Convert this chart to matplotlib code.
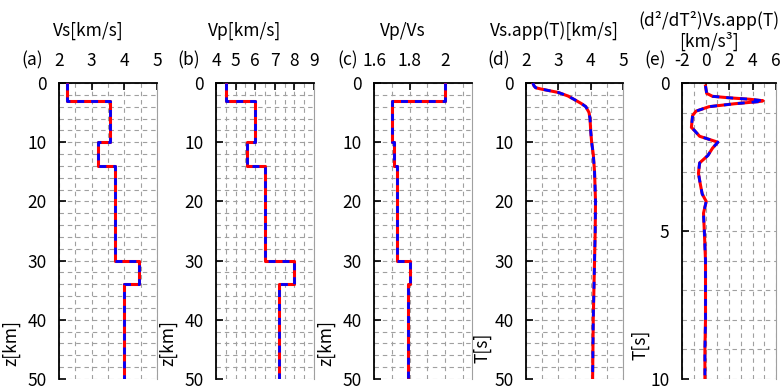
import numpy as np
import matplotlib
matplotlib.use("Agg")
import matplotlib.pyplot as plt
from matplotlib.ticker import MultipleLocator, FormatStrFormatter

plt.rcParams['font.family'] = ['Noto Sans CJK JP', 'DejaVu Sans']
plt.rcParams['font.size'] = 12.5

# Слои модели (границы в км)
layer_bounds = [0, 3, 10, 14, 30, 34, 50]
vs = [2.25, 3.55, 3.2, 3.7, 4.45, 4.0]
vp = [4.5, 6.0, 5.6, 6.5, 8.0, 7.2]
vpvs = [2.0, 1.70, 1.71, 1.73, 1.80, 1.79]

# Кажущаяся скорость Vs.app(T)
period = [0, 0.5, 0.8, 1.0, 1.6, 2.2, 2.9, 3.5, 4.0, 5.0, 6.0, 8.0, 10, 12, 15,
          20, 25, 30, 35, 40, 45, 50]
vs_app = [2.21, 2.25, 2.3, 2.45, 3.0, 3.3, 3.53, 3.72, 3.85, 3.95, 3.98, 4.0,
          4.03, 4.08, 4.12, 4.15, 4.14, 4.12, 4.1, 4.08, 4.07, 4.06]

# Вторая производная
period_e = [0.1, 0.35, 0.45, 0.5, 0.55, 0.6, 0.63, 0.7, 0.8, 0.95, 1.1, 1.5,
            1.6, 1.8, 2.0, 2.2, 2.45, 2.7, 3.05, 3.4, 3.75, 4.0, 4.4, 5.0, 6.0,
            7.0, 8.0, 9.0, 10.0]
d2vs = [0.0, 0.1, 0.6, 2.0, 3.8, 4.9, 4.5, 2.5, 0.3, -0.8, -1.1, -1.2,
        -0.95, -0.5, 1.05, 0.6, 0.2, -0.5, -0.6, -0.45, -0.28, 0.06, -0.17,
        -0.1, 0.0, 0.0, 0.0, -0.05, -0.05]

W, H = 783, 388
fig = plt.figure(figsize=(W / 100, H / 100), dpi=100)


def make_axes(left, width):
    return fig.add_axes([left / W, (H - 379) / H, width / W, 296 / H])


def style(ax, left, width, xlim, xmaj, xmin, ylim, ymaj, ymin, letter, title, ylabel, ylab_x, ylab_y):
    ax.set_xlim(*xlim)
    ax.set_ylim(*ylim)
    ax.xaxis.set_major_locator(MultipleLocator(xmaj))
    ax.xaxis.set_minor_locator(MultipleLocator(xmin))
    ax.xaxis.set_major_formatter(FormatStrFormatter('%g'))
    ax.yaxis.set_major_locator(MultipleLocator(ymaj))
    ax.yaxis.set_minor_locator(MultipleLocator(ymin))
    ax.grid(which='both', color='#a0a0a0', linestyle=(0, (4, 3.5)), linewidth=0.8)
    ax.tick_params(which='major', direction='in', top=True, labeltop=True,
                   bottom=False, labelbottom=False, right=False,
                   length=5, width=1.2, pad=9)
    ax.tick_params(which='minor', length=0)
    ax.spines['bottom'].set_visible(False)
    ax.spines['right'].set_color('#a0a0a0')
    ax.spines['right'].set_linewidth(0.8)
    ax.spines['top'].set_linewidth(1.3)
    ax.spines['left'].set_linewidth(1.3)
    ax.set_ylabel(ylabel)
    ax.yaxis.set_label_coords(ylab_x / width, ylab_y)
    fig.text((left - 16) / W, 1 - 60 / H, letter, ha='right', va='center')
    fig.text((left + width / 2 - 20) / W, 1 - 31 / H, title, ha='center', va='center',
             linespacing=1.15)


def draw(ax, x, y):
    ax.plot(x, y, color='red', linewidth=2.2, zorder=3)
    ax.plot(x, y, color='blue', linewidth=2.0, linestyle=(0, (2.5, 2.5)), zorder=4)


z_prof = np.repeat(layer_bounds, 2)[1:-1]

# (a) Vs
ax = make_axes(59, 98)
draw(ax, np.repeat(vs, 2), z_prof)
style(ax, 59, 98, (2, 5), 1, 0.5, (50, 0), 10, 2, '(a)', 'Vs[km/s]', 'z[km]', -39, 0.12)

# (b) Vp
ax = make_axes(216, 98)
draw(ax, np.repeat(vp, 2), z_prof)
style(ax, 216, 98, (4, 9), 1, 0.5, (50, 0), 10, 2, '(b)', 'Vp[km/s]', 'z[km]', -39, 0.12)

# (c) Vp/Vs
ax = make_axes(374, 98)
draw(ax, np.repeat(vpvs, 2), z_prof)
style(ax, 374, 98, (1.6, 2.15), 0.2, 0.1, (50, 0), 10, 2, '(c)', 'Vp/Vs', 'z[km]', -39, 0.12)

# (d) Vs.app(T)
ax = make_axes(526, 97)
draw(ax, vs_app, period)
style(ax, 526, 97, (2, 5), 1, 0.5, (50, 0), 10, 2, '(d)', 'Vs.app(T)[km/s]', 'T[s]', -34, 0.105)

# (e) d2/dT2 Vs.app(T)
ax = make_axes(682, 94)
draw(ax, d2vs, period_e)
style(ax, 682, 94, (-2, 6), 2, 1, (10, 0), 5, 1, '(e)', '(d²/dT²)Vs.app(T)\n[km/s³]', 'T[s]', -32, 0.115)

plt.savefig('out.png', dpi=100)
